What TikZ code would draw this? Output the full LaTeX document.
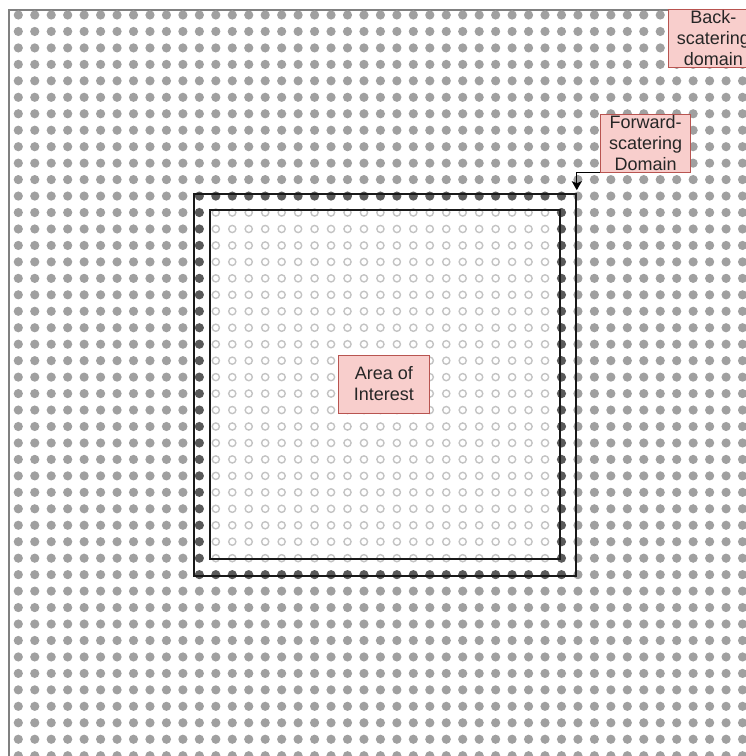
\documentclass[tikz,border=0pt]{standalone}
\usepackage{fontspec}
\setmainfont{Liberation Sans}
\usetikzlibrary{arrows.meta}
\definecolor{lblfill}{RGB}{248,206,204}
\definecolor{lbldraw}{RGB}{184,84,80}
\definecolor{dotgray}{RGB}{160,160,160}
\definecolor{dotdark}{RGB}{90,90,90}
\definecolor{dotlight}{RGB}{195,195,195}
\definecolor{edgegray}{RGB}{128,128,128}

\begin{document}
\begin{tikzpicture}[
  x=1pt, y=-1pt,
  font=\fontsize{18pt}{21pt}\selectfont,
  lbl/.style={draw=lbldraw, fill=lblfill, line width=0.9pt, align=center,
              inner sep=0pt, minimum width=90pt, minimum height=58pt, text=black!85},
  ringbox/.style={draw=black!90, line width=1.6pt, inner sep=0pt},
  graydot/.style={fill=dotgray},
  darkdot/.style={fill=dotdark},
  hollowdot/.style={draw=dotlight, line width=1.4pt, radius=3.6pt},
  edge/.style={draw=edgegray, line width=1.4pt},
  link/.style={-{Stealth[length=9pt, width=10pt, inset=2pt]}, line width=1.3pt,
               shorten >=3pt},
]
\useasboundingbox (0,0) rectangle (746,756);

% ---- dotted background ----
\draw[edge] (9,756) |- (746,10);
\foreach \i in {0,...,44}{
  \foreach \j in {0,...,45}{
    \def\dotkind{graydot}
    \ifnum\i>10\relax\ifnum\i<34\relax\ifnum\j>10\relax\ifnum\j<35\relax
      \def\dotkind{darkdot}\fi\fi\fi\fi
    \ifnum\i>11\relax\ifnum\i<33\relax\ifnum\j>11\relax\ifnum\j<34\relax
      \def\dotkind{hollowdot}\fi\fi\fi\fi
    \path[radius=4.6pt, \dotkind] (18.3+\i*16.46, 15+\j*16.46) circle;
  }
}

% ---- domains ----
\node[ringbox, minimum width=382pt, minimum height=382pt] (outer) at (385,385) {};
\node[ringbox, minimum width=350pt, minimum height=349pt] (inner) at (385,384.5) {};

% ---- labels ----
\node[lbl, minimum width=91pt] (aoi) at (383.8,384) {Area of\\Interest};
\node[lbl] (fwd) at (645.7,143.3) {Forward-\\scatering\\Domain};
\node[lbl] (back) at (713.3,38.5) {Back-\\scatering\\domain};

\draw[link] (fwd.south west) -| (outer.north east);
\end{tikzpicture}
\end{document}
